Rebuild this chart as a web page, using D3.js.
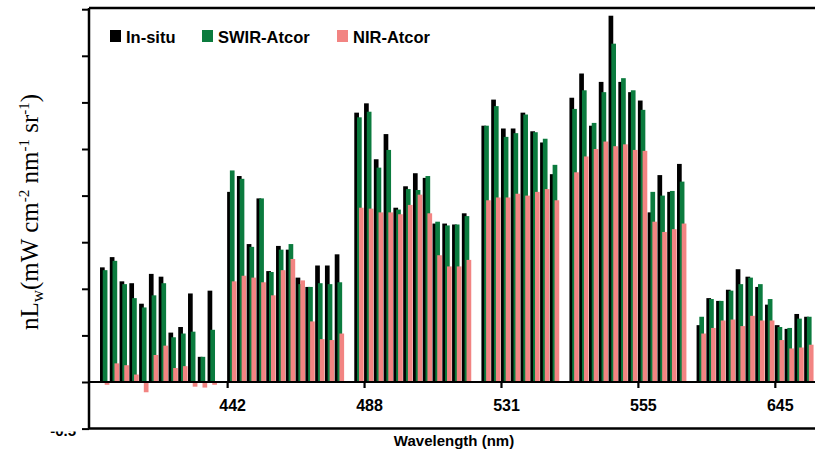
<!DOCTYPE html>
<html>
<head>
<meta charset="utf-8">
<script src="https://cdn.jsdelivr.net/npm/d3@7"></script>
<style>
  html, body { margin: 0; padding: 0; background: #fff; }
  svg { display: block; }
  .lbl { font-family: Arial, "Liberation Sans", sans-serif; font-weight: bold; fill: #000; }
</style>
</head>
<body>
<svg id="chart" width="815" height="453"></svg>
<script>
// ── data (nLw per station, 6 wavelength groups) ──
const groupSizes = [12, 12, 12, 8, 12, 12];
const inSitu = [
  [1.23, 1.34, 1.08, 1.06, 0.84, 1.16, 1.13, 0.53, 0.59, 0.95, 0.27, 0.98],
  [2.04, 2.21, 1.48, 1.97, 1.19, 1.46, 1.42, 1.12, 1.02, 1.25, 1.25, 1.37],
  [2.89, 2.99, 2.39, 2.66, 1.87, 2.10, 2.24, 2.19, 1.70, 1.70, 1.69, 1.81],
  [2.75, 3.03, 2.72, 2.72, 2.89, 2.69, 2.57, 2.23],
  [3.05, 3.31, 2.75, 3.22, 3.93, 3.22, 3.11, 3.02, 1.82, 2.22, 2.04, 2.34],
  [0.61, 0.90, 0.87, 0.99, 1.21, 1.13, 1.02, 0.83, 0.61, 0.57, 0.73, 0.70]
];
const swirAtcor = [
  [1.20, 1.30, 1.05, 0.90, 0.80, 0.93, 1.06, 0.48, 0.52, 0.54, 0.27, 0.56],
  [2.27, 2.18, 1.45, 1.97, 1.18, 1.42, 1.48, 1.05, 1.02, 1.06, 1.05, 1.07],
  [2.84, 2.90, 2.30, 2.49, 1.85, 2.07, 2.06, 2.21, 1.72, 1.68, 1.69, 1.78],
  [2.75, 2.96, 2.63, 2.67, 2.87, 2.68, 2.61, 2.33],
  [2.93, 3.13, 2.78, 3.11, 3.63, 3.26, 3.13, 2.92, 2.04, 2.00, 2.05, 2.15],
  [0.70, 0.89, 0.87, 0.98, 1.05, 1.12, 1.05, 0.89, 0.59, 0.58, 0.68, 0.70]
];
const nirAtcor = [
  [-0.03, 0.20, 0.18, 0.08, -0.11, 0.29, 0.39, 0.15, 0.17, -0.05, -0.06, -0.03],
  [1.08, 1.14, 1.12, 1.07, 0.93, 1.20, 1.32, 1.09, 0.65, 0.46, 0.45, 0.52],
  [1.87, 1.86, 1.82, 1.82, 1.80, 1.90, 2.01, 1.81, 1.36, 1.24, 1.24, 1.31],
  [1.95, 1.98, 1.98, 2.02, 2.00, 2.04, 2.07, 1.95],
  [2.25, 2.42, 2.50, 2.58, 2.53, 2.55, 2.49, 2.48, 1.72, 1.61, 1.64, 1.70],
  [0.52, 0.58, 0.66, 0.67, 0.60, 0.71, 0.66, 0.66, 0.45, 0.36, 0.37, 0.40]
];
const seriesNames = ['In-situ', 'SWIR-Atcor', 'NIR-Atcor'];
const seriesColors = ['#000000', '#0b7b3e', '#f28482'];
const tickLabels = ['442', '488', '531', '555', '645'];
const tickSlots = [13, 27, 41, 55, 69];
const yTicks = [-0.5, 0, 0.5, 1, 1.5, 2, 2.5, 3, 3.5, 4];

// ── flatten into station slots (one empty slot between groups) ──
const stations = [];
let slot = 0;
groupSizes.forEach((n, g) => {
  for (let i = 0; i < n; i++) {
    stations.push({ slot: slot + i, vals: [inSitu[g][i], swirAtcor[g][i], nirAtcor[g][i]] });
  }
  slot += n + 1;
});

const svg = d3.select('#chart');
const x = d3.scaleLinear().domain([0, 73]).range([100, 100 + 73 * 9.78]);
const y = d3.scaleLinear().domain([-0.5, 4]).range([428.6, 9.2]);
const offsets = [0, 0.28, 0.48];   // slot units
const barW = x(0.48) - x(0);

// bars: black, then green, then pink drawn on top
const st = svg.append('g').selectAll('g').data(stations).enter().append('g');
seriesNames.forEach((name, s) => {
  st.append('rect')
    .attr('x', d => x(d.slot + offsets[s]))
    .attr('width', barW)
    .attr('y', d => y(Math.max(0, d.vals[s])))
    .attr('height', d => Math.abs(y(d.vals[s]) - y(0)))
    .attr('fill', seriesColors[s]);
});

// frame
const L = 89, R = 815;
svg.append('line').attr('x1', L).attr('x2', R).attr('y1', 8).attr('y2', 8).attr('stroke', '#000').attr('stroke-width', 2.5);
svg.append('line').attr('x1', L).attr('x2', R).attr('y1', y(-0.5)).attr('y2', y(-0.5)).attr('stroke', '#000').attr('stroke-width', 2.5);
svg.append('line').attr('x1', L).attr('x2', R).attr('y1', y(0)).attr('y2', y(0)).attr('stroke', '#000').attr('stroke-width', 2);

// y axis (no labels shown)
const yAxis = svg.append('g').attr('transform', `translate(${L},0)`)
  .call(d3.axisLeft(y).tickValues(yTicks).tickSize(7).tickFormat(''));
yAxis.select('.domain').attr('stroke-width', 2.5).attr('d', `M0,8V${y(-0.5)}`);
yAxis.selectAll('.tick line').attr('stroke-width', 2);

// clipped bottom tick label (only its lower edge shows)
svg.append('clipPath').attr('id', 'lblclip').append('rect')
  .attr('x', 0).attr('y', 431.5).attr('width', 88).attr('height', 22);
svg.append('text').attr('class', 'lbl').attr('clip-path', 'url(#lblclip)')
  .attr('x', 76).attr('y', 435.5).attr('text-anchor', 'end').attr('font-size', 15)
  .text('-0.5');

// x axis ticks at zero line
const xAxis = svg.append('g').attr('transform', `translate(0,${y(0)})`)
  .call(d3.axisBottom(x).tickValues(tickSlots).tickSize(6)
    .tickFormat((d, i) => tickLabels[i]));
xAxis.select('.domain').remove();
xAxis.selectAll('.tick line').attr('stroke-width', 2.2);
xAxis.selectAll('.tick text').attr('class', 'lbl').attr('font-size', 16)
  .attr('dx', 5).attr('y', 29).attr('dy', 0);

// axis titles
svg.append('text').attr('class', 'lbl').attr('font-size', 15)
  .attr('x', 454).attr('y', 446).attr('text-anchor', 'middle').text('Wavelength (nm)');

const yt = svg.append('text')
  .attr('transform', 'translate(38,212) rotate(-90)')
  .attr('text-anchor', 'middle')
  .attr('font-family', '"Liberation Serif", "Times New Roman", serif')
  .attr('font-size', 25).attr('fill', '#000');
yt.append('tspan').text('nL');
yt.append('tspan').attr('font-size', 17).attr('dy', 5).text('w');
yt.append('tspan').attr('dy', -5).text('(mW cm');
yt.append('tspan').attr('font-size', 15).attr('dy', -9).text('-2');
yt.append('tspan').attr('dy', 9).text(' nm');
yt.append('tspan').attr('font-size', 15).attr('dy', -9).text('-1');
yt.append('tspan').attr('dy', 9).text(' sr');
yt.append('tspan').attr('font-size', 15).attr('dy', -9).text('-1');
yt.append('tspan').attr('dy', 9).text(')');

// legend
const legX = [110, 202, 337];
seriesNames.forEach((name, s) => {
  svg.append('rect').attr('x', legX[s]).attr('y', 30).attr('width', 11).attr('height', 12)
    .attr('fill', seriesColors[s]);
  svg.append('text').attr('class', 'lbl').attr('font-size', 16.5)
    .attr('x', legX[s] + 16).attr('y', 43).text(name);
});
</script>
</body>
</html>
